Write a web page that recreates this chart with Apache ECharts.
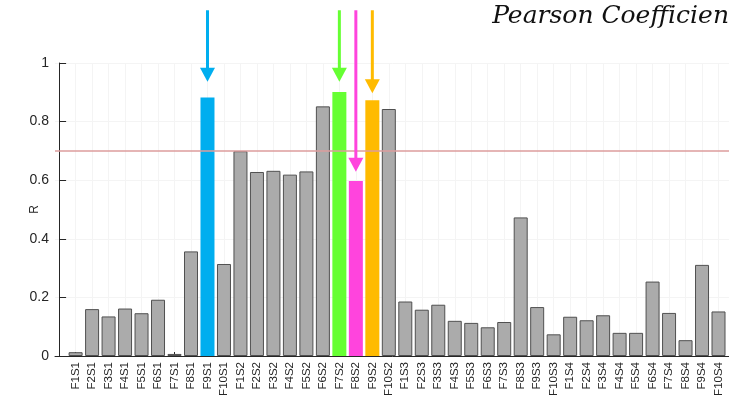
<!DOCTYPE html>
<html>
<head>
<meta charset="utf-8">
<script src="https://cdn.jsdelivr.net/npm/echarts@6/dist/echarts.min.js"></script>
<style>
  html, body { margin: 0; padding: 0; background: #fff; overflow: hidden; }
  #chart { width: 729px; height: 399px; }
</style>
</head>
<body>
<div id="chart"></div>
<script>
// Feature/segment labels along the x axis
const categories = [
  'F1S1','F2S1','F3S1','F4S1','F5S1','F6S1','F7S1','F8S1','F9S1','F10S1',
  'F1S2','F2S2','F3S2','F4S2','F5S2','F6S2','F7S2','F8S2','F9S2','F10S2',
  'F1S3','F2S3','F3S3','F4S3','F5S3','F6S3','F7S3','F8S3','F9S3','F10S3',
  'F1S4','F2S4','F3S4','F4S4','F5S4','F6S4','F7S4','F8S4','F9S4','F10S4'
];

// Pearson correlation R for each feature
const rValues = [
  0.013, 0.160, 0.135, 0.162, 0.146, 0.192, 0.007, 0.357, 0.882, 0.314,
  0.699, 0.628, 0.632, 0.619, 0.630, 0.852, 0.901, 0.597, 0.873, 0.843,
  0.186, 0.158, 0.175, 0.120, 0.113, 0.098, 0.116, 0.473, 0.167, 0.074,
  0.134, 0.122, 0.139, 0.079, 0.079, 0.254, 0.147, 0.054, 0.311, 0.152
];

// Selected features drawn in their own colour
const highlightNames  = ['F9S1', 'F7S2', 'F8S2', 'F9S2'];
const highlightColors = ['#00AEEF', '#66FF33', '#FF44DD', '#FFBB00'];

// Arrow pointers: start and tip heights in R units
const arrowTips  = [0.936, 0.936, 0.629, 0.897];
const arrowStart = 1.18;

// Threshold line
const threshold = 0.7;

const yTicks = [0, 0.2, 0.4, 0.6, 0.8, 1];

// x positions of the bars (1-based, like the category numbering)
const positions = categories.map((_, i) => i + 1);

const chart = echarts.init(document.getElementById('chart'), null, { renderer: 'canvas' });

const barData = categories.map((name, i) => {
  const k = highlightNames.indexOf(name);
  const item = { value: [positions[i], rValues[i]] };
  if (k >= 0) {
    item.itemStyle = { color: highlightColors[k], borderColor: highlightColors[k], borderWidth: 0 };
  }
  return item;
});

const option = {
  animation: false,
  backgroundColor: '#ffffff',
  grid: { left: 55, top: 63, width: 680, bottom: 43, containLabel: false, outerBoundsMode: 'none' },
  xAxis: {
    type: 'value',
    min: -0.25,
    max: categories.length + 1,
    axisLine: { show: true, lineStyle: { color: '#262626', width: 1 } },
    axisTick: { show: true, inside: true, length: 4, customValues: positions, lineStyle: { color: '#262626' } },
    axisLabel: {
      rotate: 90,
      margin: 6,
      color: '#262626',
      fontFamily: 'Liberation Sans, Arial, sans-serif',
      fontSize: 11.5,
      customValues: positions,
      formatter: v => categories[v - 1] || ''
    },
    splitLine: { show: true, customValues: positions, lineStyle: { color: '#f4f4f4', width: 1 } }
  },
  yAxis: {
    type: 'value',
    min: yTicks[0],
    max: yTicks[yTicks.length - 1],
    interval: 0.2,
    name: 'R',
    nameLocation: 'middle',
    nameRotate: 90,
    nameGap: 14,
    nameMoveOverlap: false,
    nameTextStyle: { color: '#262626', fontFamily: 'Liberation Sans, Arial, sans-serif', fontSize: 12 },
    axisLine: { show: true, lineStyle: { color: '#262626', width: 1 } },
    axisTick: { show: true, inside: true, length: 7, lineStyle: { color: '#262626' } },
    axisLabel: {
      margin: 6,
      color: '#262626',
      fontFamily: 'Liberation Sans, Arial, sans-serif',
      fontSize: 14,
      formatter: v => (v === 0 ? '0' : v === 1 ? '1' : v.toFixed(1))
    },
    splitLine: { show: true, lineStyle: { color: '#f4f4f4', width: 1 } }
  },
  series: [{
    type: 'bar',
    data: barData,
    barWidth: 14,
    itemStyle: { color: '#ababab', borderColor: '#505050', borderWidth: 1 },
    markLine: {
      silent: true,
      symbol: ['none', 'none'],
      label: { show: false },
      lineStyle: { color: '#dc9c9c', width: 1.5, type: 'solid' },
      data: [{ yAxis: threshold }]
    }
  }]
};

chart.setOption(option);

// Arrows above the highlighted bars, positioned through the chart's own scales
const graphics = [];
highlightNames.forEach((name, k) => {
  const xi = positions[categories.indexOf(name)];
  const top = chart.convertToPixel({ gridIndex: 0 }, [xi, arrowStart]);
  const tip = chart.convertToPixel({ gridIndex: 0 }, [xi, arrowTips[k]]);
  const headH = 14, headW = 15;
  const color = highlightColors[k];
  graphics.push({
    type: 'line',
    shape: { x1: top[0], y1: top[1], x2: tip[0], y2: tip[1] - headH + 1 },
    style: { stroke: color, lineWidth: 3 },
    z: 100
  });
  graphics.push({
    type: 'polygon',
    shape: { points: [[tip[0] - headW / 2, tip[1] - headH], [tip[0] + headW / 2, tip[1] - headH], [tip[0], tip[1]]] },
    style: { fill: color },
    z: 100
  });
});

graphics.push({
  type: 'text',
  right: 0,
  top: 4,
  style: {
    text: 'Pearson Coefficien',
    fill: '#111111',
    font: 'italic 25px "DejaVu Serif", "Liberation Serif", serif',
    textAlign: 'right'
  },
  z: 100
});

chart.setOption({ graphic: graphics });
</script>
</body>
</html>
